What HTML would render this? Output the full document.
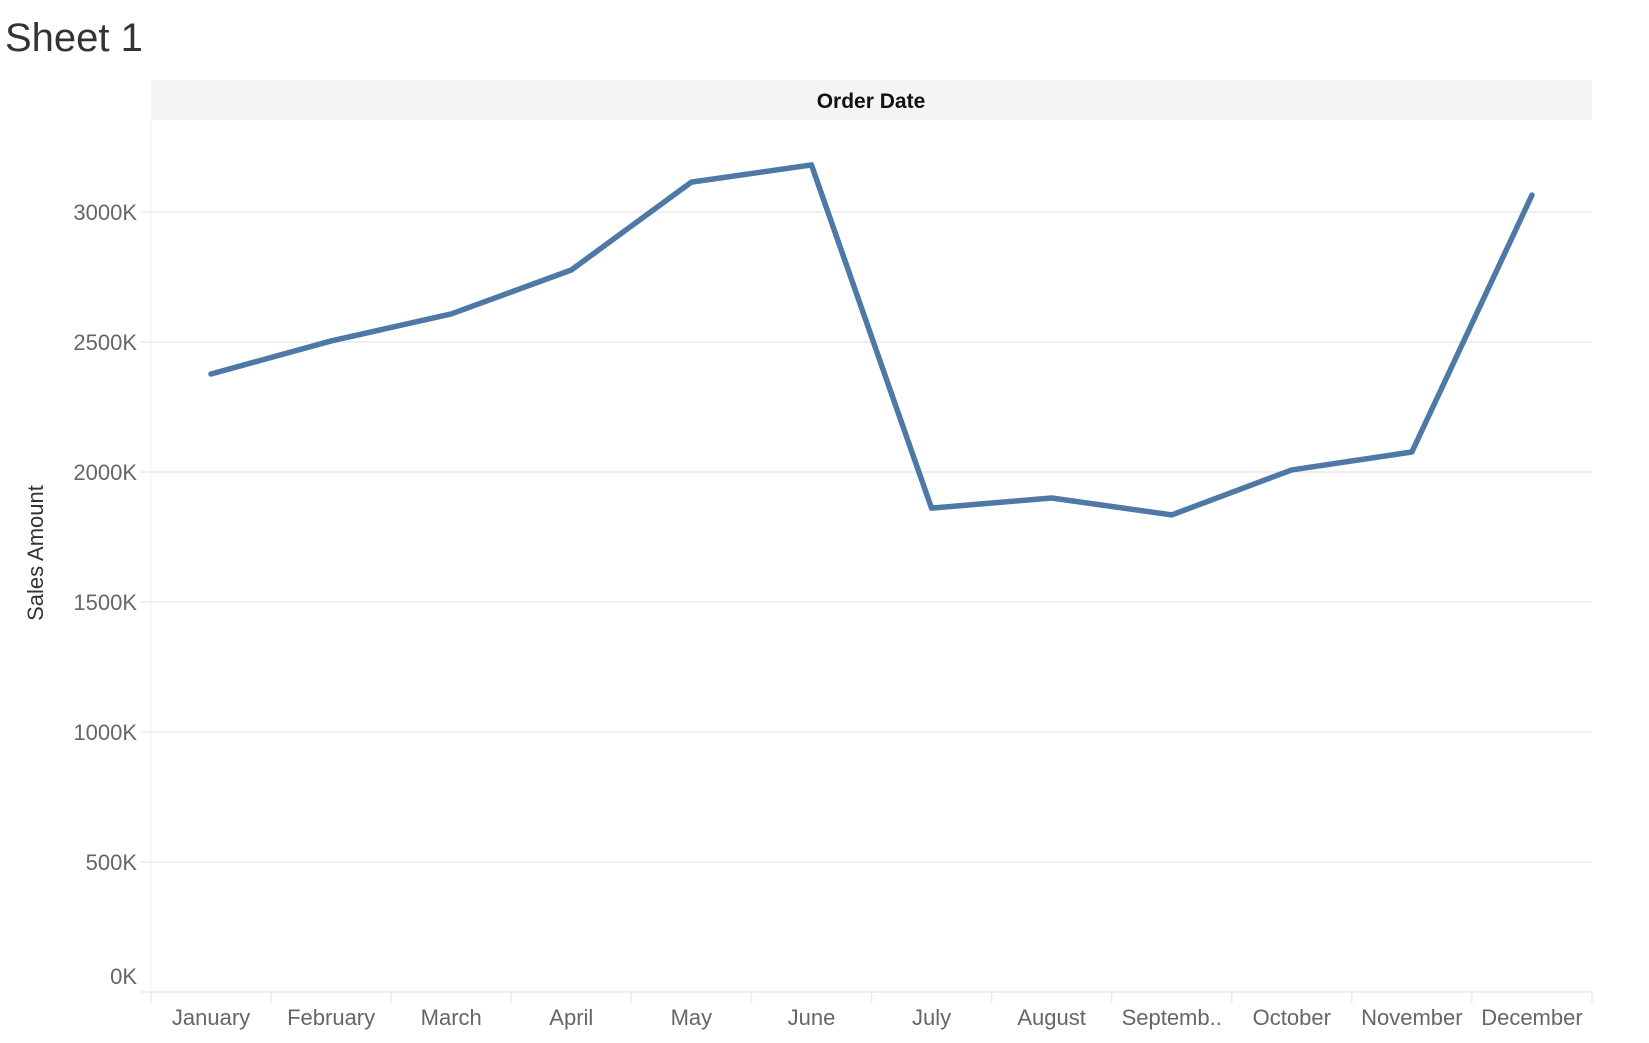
<!DOCTYPE html>
<html><head><meta charset="utf-8"><style>
body{margin:0;background:#fff;width:1649px;height:1043px;overflow:hidden;font-family:"Liberation Sans",sans-serif}
svg{display:block}
</style></head><body>
<svg id="chart" width="1649" height="1043" xmlns="http://www.w3.org/2000/svg">
<text x="5" y="51" font-size="40" fill="#333" font-family="Liberation Sans, sans-serif">Sheet 1</text>
<rect x="151" y="80" width="1441" height="40" fill="#f4f4f4"/>
<text x="871" y="108" font-size="21" font-weight="bold" text-anchor="middle" fill="#111">Order Date</text>
<text transform="translate(43,553) rotate(-90)" font-size="22" text-anchor="middle" fill="#333">Sales Amount</text>
<g id="grid"></g><g id="ticks"></g><g id="series"></g>
</svg>
<script>
const categories=["January","February","March","April","May","June","July","August","Septemb..","October","November","December"];
const salesValues=[2377,2504,2608,2777,3115,3181,1861,1900,1835,2008,2077,3065];
const yTickValues=[0,500,1000,1500,2000,2500,3000];
const yTickLabels=["0K","500K","1000K","1500K","2000K","2500K","3000K"];
const NS="http://www.w3.org/2000/svg";
const L=151,R=1592,B=992,PX=0.26;
const colW=(R-L)/categories.length;
function xs(i){return L+colW*(i+0.5);}
function ys(v){return B-v*PX;}
function mk(tag,attrs,parent){const e=document.createElementNS(NS,tag);for(const k in attrs)e.setAttribute(k,attrs[k]);parent.appendChild(e);return e;}
const grid=document.getElementById('grid'),ticks=document.getElementById('ticks'),series=document.getElementById('series');
const vline=mk('line',{x1:L,x2:L,y1:120,y2:B,stroke:'#f0f0f0','stroke-width':1},grid);


yTickValues.forEach((v,i)=>{
  const g=mk('line',{x1:141,x2:R,y1:ys(v),y2:ys(v),stroke:'#efefef','stroke-width':2},grid);
  
  
  const ty=Math.min(ys(v)+8,B-8);
  const t=mk('text',{x:137,y:ty,'font-size':22,'text-anchor':'end',fill:'#666'},ticks);
  t.textContent=yTickLabels[i];
  
  
});
for(let i=0;i<=categories.length;i++){
  const tk=mk('line',{x1:L+colW*i,x2:L+colW*i,y1:B,y2:B+11,stroke:'#eaeaea','stroke-width':1.5},ticks);
  
  
}
categories.forEach((c,i)=>{
  const t=mk('text',{x:xs(i),y:1037-12,'font-size':22,'text-anchor':'middle',fill:'#666'},ticks);
  t.textContent=c;
  
  
});
const pts=salesValues.map((v,i)=>xs(i)+','+ys(v)).join(' ');
const pl=mk('polyline',{points:pts,fill:'none',stroke:'#4e79a7','stroke-width':5.5,'stroke-linejoin':'round','stroke-linecap':'round'},series);


</script>
</body></html>
